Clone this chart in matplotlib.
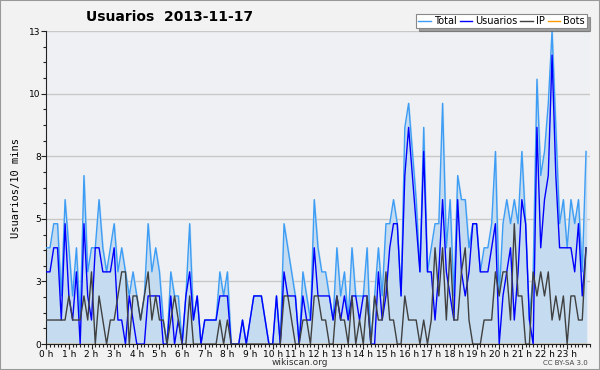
import numpy as np
import matplotlib
matplotlib.use("Agg")
from matplotlib import pyplot as plt
from matplotlib.ticker import FixedLocator, MultipleLocator

# usuarios cada 10 minutos (144 puntos, 0h -> 23h50)
total = [4, 4, 5, 5, 2, 6, 4, 2, 4, 1, 7, 3, 4, 4, 6, 4, 3, 4, 5, 3, 4, 3, 2, 3,
         2, 1, 2, 5, 3, 4, 3, 1, 0, 3, 2, 2, 0, 2, 5, 1, 2, 0, 1, 1, 1, 1, 3, 2,
         3, 0, 0, 0, 1, 0, 1, 2, 2, 2, 1, 0, 0, 2, 0, 5, 4, 3, 2, 0, 3, 2, 1, 6,
         4, 3, 3, 2, 1, 4, 2, 3, 1, 4, 2, 2, 2, 4, 0, 2, 4, 2, 5, 5, 6, 5, 2, 9,
         10, 8, 6, 3, 9, 3, 4, 5, 5, 10, 4, 6, 2, 7, 6, 6, 4, 5, 5, 3, 4, 4, 5, 8,
         2, 5, 6, 5, 6, 5, 8, 5, 1, 3, 11, 7, 8, 10, 13, 9, 5, 6, 4, 6, 5, 6, 3, 8]
usuarios = [3, 3, 4, 4, 1, 5, 2, 1, 3, 0, 5, 2, 1, 4, 4, 3, 3, 3, 4, 1, 1, 0, 2, 1,
            0, 0, 0, 2, 2, 2, 2, 0, 0, 2, 0, 1, 0, 2, 3, 1, 2, 0, 1, 1, 1, 1, 2, 2,
            2, 0, 0, 0, 1, 0, 1, 2, 2, 2, 1, 0, 0, 2, 0, 3, 2, 2, 2, 0, 2, 1, 1, 4,
            2, 2, 2, 2, 1, 2, 1, 2, 1, 2, 2, 1, 2, 2, 0, 0, 3, 1, 2, 4, 5, 5, 2, 7,
            9, 7, 5, 3, 8, 3, 3, 1, 3, 6, 3, 2, 1, 6, 3, 2, 3, 5, 5, 3, 3, 3, 4, 5,
            0, 2, 3, 4, 1, 3, 6, 5, 1, 0, 9, 4, 6, 7, 12, 7, 4, 4, 4, 4, 3, 5, 2, 4]
ip = [1, 1, 1, 1, 1, 1, 2, 1, 1, 1, 2, 1, 3, 0, 2, 1, 0, 1, 1, 2, 3, 3, 0, 2,
      2, 1, 2, 3, 1, 2, 1, 1, 0, 1, 2, 1, 0, 0, 2, 0, 0, 0, 0, 0, 0, 0, 1, 0,
      1, 0, 0, 0, 0, 0, 0, 0, 0, 0, 0, 0, 0, 0, 0, 2, 2, 1, 0, 0, 1, 1, 0, 2,
      2, 1, 1, 0, 0, 2, 1, 1, 0, 2, 0, 1, 0, 2, 0, 2, 1, 1, 3, 1, 1, 0, 0, 2,
      1, 1, 1, 0, 1, 0, 1, 4, 2, 4, 1, 4, 1, 1, 3, 4, 1, 0, 0, 0, 1, 1, 1, 3,
      2, 3, 3, 1, 5, 2, 2, 0, 0, 3, 2, 3, 2, 3, 1, 2, 1, 2, 0, 2, 2, 1, 1, 4]
bots = [0] * 144

hour_labels = ["%d h" % h for h in range(24)]
ytick_values = [0, 2.6, 5.2, 7.8, 10.4, 13]
ytick_labels = ["0", "3", "5", "8", "10", "13"]

x = np.arange(len(total)) / 6.0

fig = plt.figure(figsize=(6, 3.7), dpi=100, facecolor="#f2f2f2")
ax = fig.add_axes([0.077, 0.07, 0.906, 0.846])
ax.set_facecolor("#eef0f3")

ax.fill_between(x, 0, total, color="#c5dcf0", zorder=1)
ax.plot(x, bots, color="#ff9900", lw=1, zorder=2, label="Bots")
ax.plot(x, total, color="#3d9df5", lw=1, zorder=3, label="Total")
ax.plot(x, usuarios, color="#0000ff", lw=1, zorder=4, label="Usuarios")
ax.plot(x, ip, color="#404040", lw=1, zorder=5, label="IP")

ax.set_xlim(0, 24)
ax.set_ylim(0, 13)
ax.xaxis.set_major_locator(FixedLocator(range(24)))
ax.set_xticklabels(hour_labels)
ax.xaxis.set_minor_locator(MultipleLocator(1 / 6))
ax.yaxis.set_major_locator(FixedLocator(ytick_values))
ax.set_yticklabels(ytick_labels)
ax.yaxis.set_minor_locator(MultipleLocator(0.65))
ax.grid(axis="y", color="#c8c8c8", lw=1, zorder=0)
ax.set_axisbelow(True)

ax.tick_params(axis="both", which="major", length=3.5, width=0.8, labelsize=6.5, pad=0.5, color="#222222")
ax.tick_params(axis="both", which="minor", length=2.5, width=0.8, color="#222222")
for s in ["top", "right"]:
    ax.spines[s].set_visible(False)
for s in ["left", "bottom"]:
    ax.spines[s].set_color("#222222")

ax.set_ylabel("Usuarios/10 mins", family="DejaVu Sans Mono", fontsize=7.5, labelpad=6)
fig.text(0.283, 0.953, "Usuarios  2013-11-17", ha="center", va="center",
         fontsize=10, fontweight="bold")
fig.text(0.5, 0.02, "wikiscan.org", ha="center", va="center", fontsize=6.5, color="#333333")
fig.text(0.98, 0.02, "CC BY-SA 3.0", ha="right", va="center", fontsize=5, color="#444444")

h = ax.get_legend_handles_labels()[0]
order = [1, 2, 3, 0]
leg = fig.legend([h[i] for i in order], ["Total", "Usuarios", "IP", "Bots"],
                 loc="upper right", bbox_to_anchor=(0.978, 0.962), ncol=4,
                 fontsize=7, frameon=True, fancybox=False, shadow=True,
                 handlelength=1.3, handletextpad=0.3, columnspacing=0.3,
                 borderpad=0.2, borderaxespad=0)
leg.get_frame().set_edgecolor("#888888")
leg.get_frame().set_linewidth(0.8)

fig.patches.append(plt.Rectangle((0, 0), 1, 1, transform=fig.transFigure,
                                 fill=False, edgecolor="#999999", lw=1.5))

fig.savefig("out.png", dpi=100, facecolor=fig.get_facecolor())
